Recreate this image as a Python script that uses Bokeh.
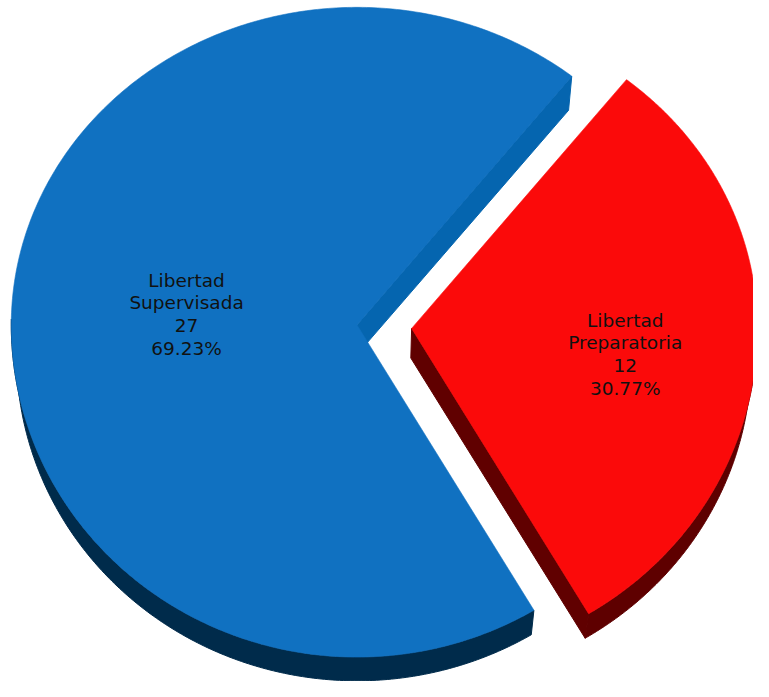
import numpy as np
from bokeh.plotting import figure
from bokeh.models import Range1d, ColumnDataSource
from bokeh.embed import file_html
from bokeh.resources import INLINE
from bokeh.core.properties import value

# ---------------- data ----------------
categories = ["Libertad Supervisada", "Libertad Preparatoria"]
counts = [27, 12]
top_colors = ["#1071c1", "#fb0a0a"]
cut_colors = ["#0565af", "#600000"]
rim_colors = ["#002b4b", "#5e0000"]
explode = [0, 56]                      # px offset of each slice
label_pos = [(190, 321), (638, 362)]   # label anchor (chart px)

# ---------------- layout (chart pixel space, 769 x 697) ----------------
CX, CY = 364, 332
RX, RY_TOP, RY_BOT = 353, 325, 340
DEPTH = 30.4
KX, KY = 0.985, 0.982      # perspective shrink of the bottom face
FIRST_ANGLE = 149.2        # first slice angle, degrees clockwise from 12 o'clock

total = float(sum(counts))
pct_labels = ["%.2f%%" % (100.0 * c / total) for c in counts]


def top_pt(cx, cy, th):
    s = np.sin(th)
    ry = np.where(s > 0, RY_TOP, RY_BOT)
    return cx + RX * np.cos(th), cy - ry * s


def bot_pt(x, y):
    return CX + (np.asarray(x) - CX) * KX, CY + (np.asarray(y) - CY) * KY + DEPTH


# slice angles (math convention, radians), going clockwise
start = np.radians(90.0 - FIRST_ANGLE)
slices = []
a = start
for c in counts:
    sweep = 2 * np.pi * c / total
    hi, lo = a, a - sweep
    slices.append((lo, hi))
    a = lo

rim_xs, rim_ys, rim_c = [], [], []
cut_xs, cut_ys, cut_c = [], [], []
top_xs, top_ys, top_c = [], [], []

for i, (lo, hi) in enumerate(slices):
    mid = 0.5 * (lo + hi)
    ox = explode[i] * np.cos(mid)
    oy = -explode[i] * np.sin(mid) * (RY_BOT if np.sin(mid) < 0 else RY_TOP) / RX
    cx, cy = CX + ox, CY + oy

    th = np.linspace(lo, hi, 400)
    tx, ty = top_pt(cx, cy, th)
    top_xs.append(list(np.r_[cx, tx]))
    top_ys.append(list(np.r_[cy, ty]))
    top_c.append(top_colors[i])

    # front rim (outer side), where the arc faces the viewer
    front = np.sin(th) <= 0.02
    if front.any():
        fx, fy = tx[front], ty[front]
        bx, by = bot_pt(fx, fy)
        rim_xs.append(list(np.r_[fx, bx[::-1]]))
        rim_ys.append(list(np.r_[fy, by[::-1]]))
        rim_c.append(rim_colors[i])

    # cut faces that face the viewer
    for ang, visible in ((lo, np.cos(lo) > 0), (hi, np.cos(hi) < 0)):
        if not visible:
            continue
        ex, ey = top_pt(cx, cy, ang)
        bex, bey = bot_pt(ex, ey)
        bcx, bcy = bot_pt(cx, cy)
        cut_xs.append([cx, float(ex), float(bex), float(bcx)])
        cut_ys.append([cy, float(ey), float(bey), float(bcy)])
        cut_c.append(cut_colors[i])

W, H = 753, 681
p = figure(width=W, height=H, output_backend="svg", toolbar_location=None,
           x_range=Range1d(0, 769), y_range=Range1d(697, 0),
           min_border=0, outline_line_color=None)
p.axis.visible = False
p.grid.visible = False
p.background_fill_color = "white"

p.patches("xs", "ys", source=ColumnDataSource(dict(xs=rim_xs, ys=rim_ys, c=rim_c)),
          fill_color="c", line_color="c", line_width=1)
p.patches("xs", "ys", source=ColumnDataSource(dict(xs=cut_xs, ys=cut_ys, c=cut_c)),
          fill_color="c", line_color="c", line_width=1)
p.patches("xs", "ys", source=ColumnDataSource(dict(xs=top_xs, ys=top_ys, c=top_c)),
          fill_color="c", line_color="c", line_width=0.6)

texts = [cat.replace(" ", "\n") + "\n" + str(cnt) + "\n" + pc
         for cat, cnt, pc in zip(categories, counts, pct_labels)]
lsrc = ColumnDataSource(dict(x=[lp[0] for lp in label_pos],
                             y=[lp[1] for lp in label_pos], t=texts))
p.text("x", "y", text="t", source=lsrc, text_align="center", text_baseline="middle",
       text_font=value("DejaVu Sans"), text_font_size="18.5px", text_color="#111111",
       text_line_height=1.08)

open("out.html", "w").write(file_html(p, INLINE))
